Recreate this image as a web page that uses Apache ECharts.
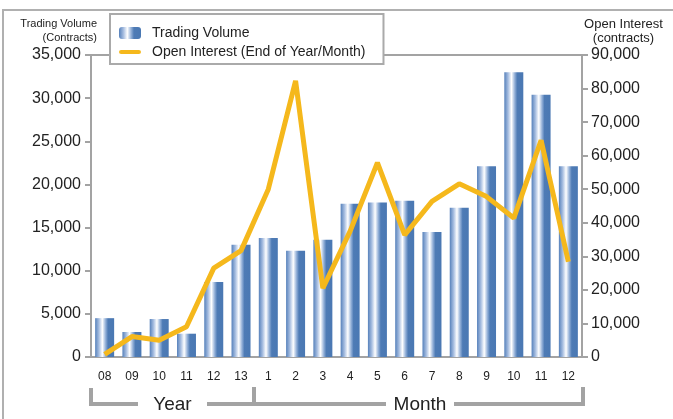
<!DOCTYPE html>
<html>
<head>
<meta charset="utf-8">
<script src="https://cdn.jsdelivr.net/npm/echarts@6/dist/echarts.min.js"></script>
<style>
  html, body { margin: 0; padding: 0; background: #fff; }
  #chart { width: 673px; height: 419px; }
</style>
</head>
<body>
<div id="chart"></div>
<script>
// categories: years 08-13, then months 1-12
var categories = ['08', '09', '10', '11', '12', '13', '1', '2', '3', '4', '5', '6', '7', '8', '9', '10', '11', '12'];
var tradingVolume = [4500, 2900, 4400, 2700, 8700, 13000, 13800, 12300, 13600, 17750, 17900, 18100, 14500, 17300, 22100, 33000, 30400, 22100];
var openInterest = [800, 6100, 5000, 9000, 26500, 31700, 50000, 82300, 20500, 37500, 57900, 36400, 46400, 51600, 47800, 41400, 64600, 28400];
var leftTicks = { min: 0, max: 35000, interval: 5000 };
var rightTicks = { min: 0, max: 90000, interval: 10000 };

var font = "'Liberation Sans', Arial, sans-serif";
var gray = '#a3a3a3';

var barGradient = new echarts.graphic.LinearGradient(0, 0, 1, 0, [
    { offset: 0, color: '#5681bb' },
    { offset: 0.2, color: '#a6bde0' },
    { offset: 0.38, color: '#ffffff' },
    { offset: 0.55, color: '#93b0d8' },
    { offset: 0.68, color: '#4e7bb5' },
    { offset: 1, color: '#4a78b3' }
]);

var chart = echarts.init(document.getElementById('chart'));
var option = {
    animation: false,
    backgroundColor: '#fff',
    grid: {
        left: 91, right: 91, top: 55, bottom: 62,
        show: true, borderColor: gray, borderWidth: 2, backgroundColor: 'transparent'
    },
    legend: {
        orient: 'vertical',
        left: 110, top: 14,
        padding: [11, 18, 4, 9],
        itemGap: 3,
        itemWidth: 22, itemHeight: 12,
        backgroundColor: '#fff',
        borderColor: '#aaaaaa', borderWidth: 2,
        textStyle: { fontFamily: font, fontSize: 14, color: '#222', lineHeight: 16, padding: [0, 0, 0, 6] },
        data: [
            { name: 'Trading Volume' },
            { name: 'Open Interest (End of Year/Month)', icon: 'path://M2.5,0 L23.5,0 A2.5,2.5 0 0 1 23.5,5 L2.5,5 A2.5,2.5 0 0 1 2.5,0 Z' }
        ]
    },
    xAxis: {
        type: 'category',
        data: categories,
        axisLine: { lineStyle: { color: gray, width: 2 } },
        axisTick: { length: 6, lineStyle: { color: gray, width: 2 } },
        axisLabel: { margin: 14, fontFamily: font, fontSize: 12, color: '#222' }
    },
    yAxis: [{
        type: 'value',
        min: leftTicks.min, max: leftTicks.max, interval: leftTicks.interval,
        splitLine: { show: false },
        axisLine: { show: true, lineStyle: { color: gray, width: 2 } },
        axisTick: { show: true, length: 6, lineStyle: { color: gray, width: 2 } },
        axisLabel: { margin: 10, fontFamily: font, fontSize: 16, color: '#222' }
    }, {
        type: 'value',
        position: 'right',
        min: rightTicks.min, max: rightTicks.max, interval: rightTicks.interval,
        splitLine: { show: false },
        axisLine: { show: true, lineStyle: { color: gray, width: 2 } },
        axisTick: { show: true, length: 6, lineStyle: { color: gray, width: 2 } },
        axisLabel: { margin: 9, fontFamily: font, fontSize: 16, color: '#222' }
    }],
    series: [{
        name: 'Trading Volume',
        type: 'bar',
        yAxisIndex: 0,
        barWidth: 19,
        itemStyle: { color: barGradient },
        data: tradingVolume
    }, {
        name: 'Open Interest (End of Year/Month)',
        type: 'line',
        yAxisIndex: 1,
        symbol: 'none',
        z: 5,
        lineStyle: { color: '#f5b81c', width: 5 },
        itemStyle: { color: '#f5b81c' },
        data: openInterest
    }],
    graphic: [
        // outer frame (top and left edges)
        { type: 'polyline', shape: { points: [[3, 419], [3, 10], [673, 10]] }, style: { stroke: '#b0b0b0', lineWidth: 2, fill: null } },
        // axis titles
        { type: 'text', x: 97, y: 17, style: { text: 'Trading Volume\n(Contracts)', align: 'right', font: '11px ' + font, fill: '#222', lineHeight: 14 } },
        { type: 'text', x: 623.5, y: 17, style: { text: 'Open Interest\n(contracts)', align: 'center', font: '13px ' + font, fill: '#222', lineHeight: 14 } },
        // Year / Month brackets
        { type: 'polyline', shape: { points: [[91, 388], [91, 404], [138, 404]] }, style: { stroke: gray, lineWidth: 4, fill: null } },
        { type: 'polyline', shape: { points: [[207, 404], [254, 404], [254, 387]] }, style: { stroke: gray, lineWidth: 4, fill: null } },
        { type: 'polyline', shape: { points: [[254, 404], [386, 404]] }, style: { stroke: gray, lineWidth: 4, fill: null } },
        { type: 'polyline', shape: { points: [[454, 404], [583, 404], [583, 387]] }, style: { stroke: gray, lineWidth: 4, fill: null } },
        { type: 'text', x: 172.5, y: 405, style: { text: 'Year', font: '19px ' + font, fill: '#222', align: 'center', verticalAlign: 'middle' } },
        { type: 'text', x: 420, y: 405, style: { text: 'Month', font: '19px ' + font, fill: '#222', align: 'center', verticalAlign: 'middle' } }
    ]
};
chart.setOption(option);
</script>
</body>
</html>
